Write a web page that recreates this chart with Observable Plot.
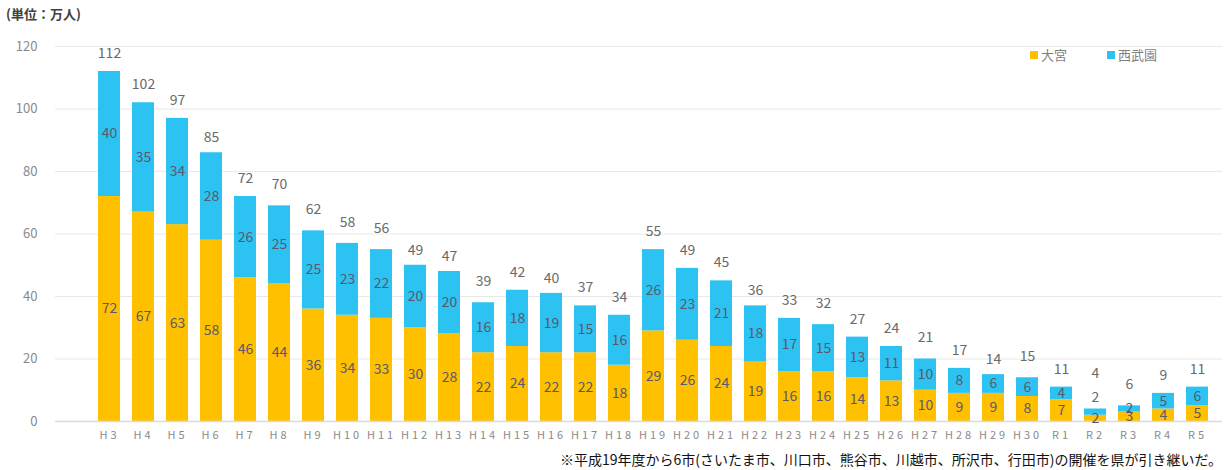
<!DOCTYPE html>
<html>
<head>
<meta charset="utf-8">
<script src="https://cdn.jsdelivr.net/npm/d3@7"></script>
<script src="https://cdn.jsdelivr.net/npm/@observablehq/plot@0.6"></script>
<style>
  html, body { margin: 0; padding: 0; background: #fff; }
  #wrap { position: relative; width: 1228px; height: 470px; font-family: "Noto Sans CJK JP", "Noto Sans", sans-serif; }
  #title { position: absolute; left: 6px; top: 4px; font-size: 13px; color: #404040; font-weight: bold; }
  #legend { position: absolute; left: 1030px; top: 45px; font-size: 13px; color: #7f7f7f; display: flex; gap: 40px; }
  #legend span.sw { display: inline-block; width: 8px; height: 8px; margin-right: 3px; vertical-align: 1px; }
  #caption { position: absolute; right: 6px; top: 449px; font-size: 14px; color: #111; white-space: nowrap; }
  #chart svg g[aria-label="x-axis tick label"] text { letter-spacing: 3px; }
</style>
</head>
<body>
<div id="wrap">
  <div id="chart"></div>
  <div id="title">(単位：万人)</div>
  <div id="legend"></div>
  <div id="caption">※平成19年度から6市(さいたま市、川口市、熊谷市、川越市、所沢市、行田市)の開催を県が引き継いだ。</div>
</div>
<script>
const categories = ["H3","H4","H5","H6","H7","H8","H9","H10","H11","H12","H13","H14","H15","H16","H17","H18","H19","H20","H21","H22","H23","H24","H25","H26","H27","H28","H29","H30","R1","R2","R3","R4","R5"];
const omiya   = [72,67,63,58,46,44,36,34,33,30,28,22,24,22,22,18,29,26,24,19,16,16,14,13,10,9,9,8,7,2,3,4,5];
const seibuen = [40,35,34,28,26,25,25,23,22,20,20,16,18,19,15,16,26,23,21,18,17,15,13,11,10,8,6,6,4,2,2,5,6];
const totals  = [112,102,97,85,72,70,62,58,56,49,47,39,42,40,37,34,55,49,45,36,33,32,27,24,21,17,14,15,11,4,6,9,11];
const seriesNames = ["大宮", "西武園"];
const seriesColors = ["#FFC000", "#2CC3F3"];
const yTicks = [0, 20, 40, 60, 80, 100, 120];

const rows = [];
categories.forEach((c, i) => {
  rows.push({cat: c, series: seriesNames[0], value: omiya[i], total: totals[i]});
  rows.push({cat: c, series: seriesNames[1], value: seibuen[i], total: totals[i]});
});
const totalRows = categories.map((c, i) => ({cat: c, total: totals[i]}));
// tiny stacks: the top segment's label is pushed above the bar (as in the reference)
const tiny = d => d.total < 5;

const chart = Plot.plot({
  width: 1228,
  height: 470,
  marginLeft: 55,
  marginRight: 6,
  marginTop: 46,
  marginBottom: 49,
  style: {fontFamily: '"Noto Sans CJK JP", "Noto Sans", sans-serif', background: "transparent"},
  x: {type: "band", domain: categories, range: [84, 1222], padding: 0.36, label: null},
  y: {domain: [0, 120], label: null},
  color: {domain: seriesNames, range: seriesColors},
  marks: [
    Plot.gridY(yTicks.filter(d => d > 0), {stroke: "#e8e8e8", strokeOpacity: 1}),
    Plot.axisY({ticks: yTicks, tickSize: 0, tickPadding: 18, fontSize: 13, color: "#8a8a8a", label: null}),
    Plot.axisX({tickSize: 0, tickPadding: 10, fontSize: 11, color: "#8a8a8a", label: null}),
    Plot.barY(rows, {x: "cat", y: "value", fill: "series"}),
    Plot.ruleY([0], {stroke: "#d9dbe3", strokeWidth: 1.5}),
    Plot.text(rows, Plot.stackY({x: "cat", y: "value", text: d => (tiny(d) && d.series === seriesNames[1]) ? null : d.value, fill: "#5a5a6a", fontSize: 14})),
    Plot.text(rows.filter(d => tiny(d) && d.series === seriesNames[1]), {x: "cat", y: "total", text: "value", dy: -11, fill: "#6a6a6a", fontSize: 14}),
    Plot.text(totalRows.filter(d => !tiny(d)), {x: "cat", y: "total", text: "total", dy: -18, fill: "#6a6a6a", fontSize: 14}),
    Plot.text(totalRows.filter(tiny), {x: "cat", y: "total", text: "total", dy: -35, fill: "#6a6a6a", fontSize: 14})
  ]
});
document.getElementById("chart").appendChild(chart);

const legend = document.getElementById("legend");
seriesNames.forEach((n, i) => {
  const s = document.createElement("span");
  s.innerHTML = `<span class="sw" style="background:${seriesColors[i]}"></span>${n}`;
  legend.appendChild(s);
});
</script>
</body>
</html>
